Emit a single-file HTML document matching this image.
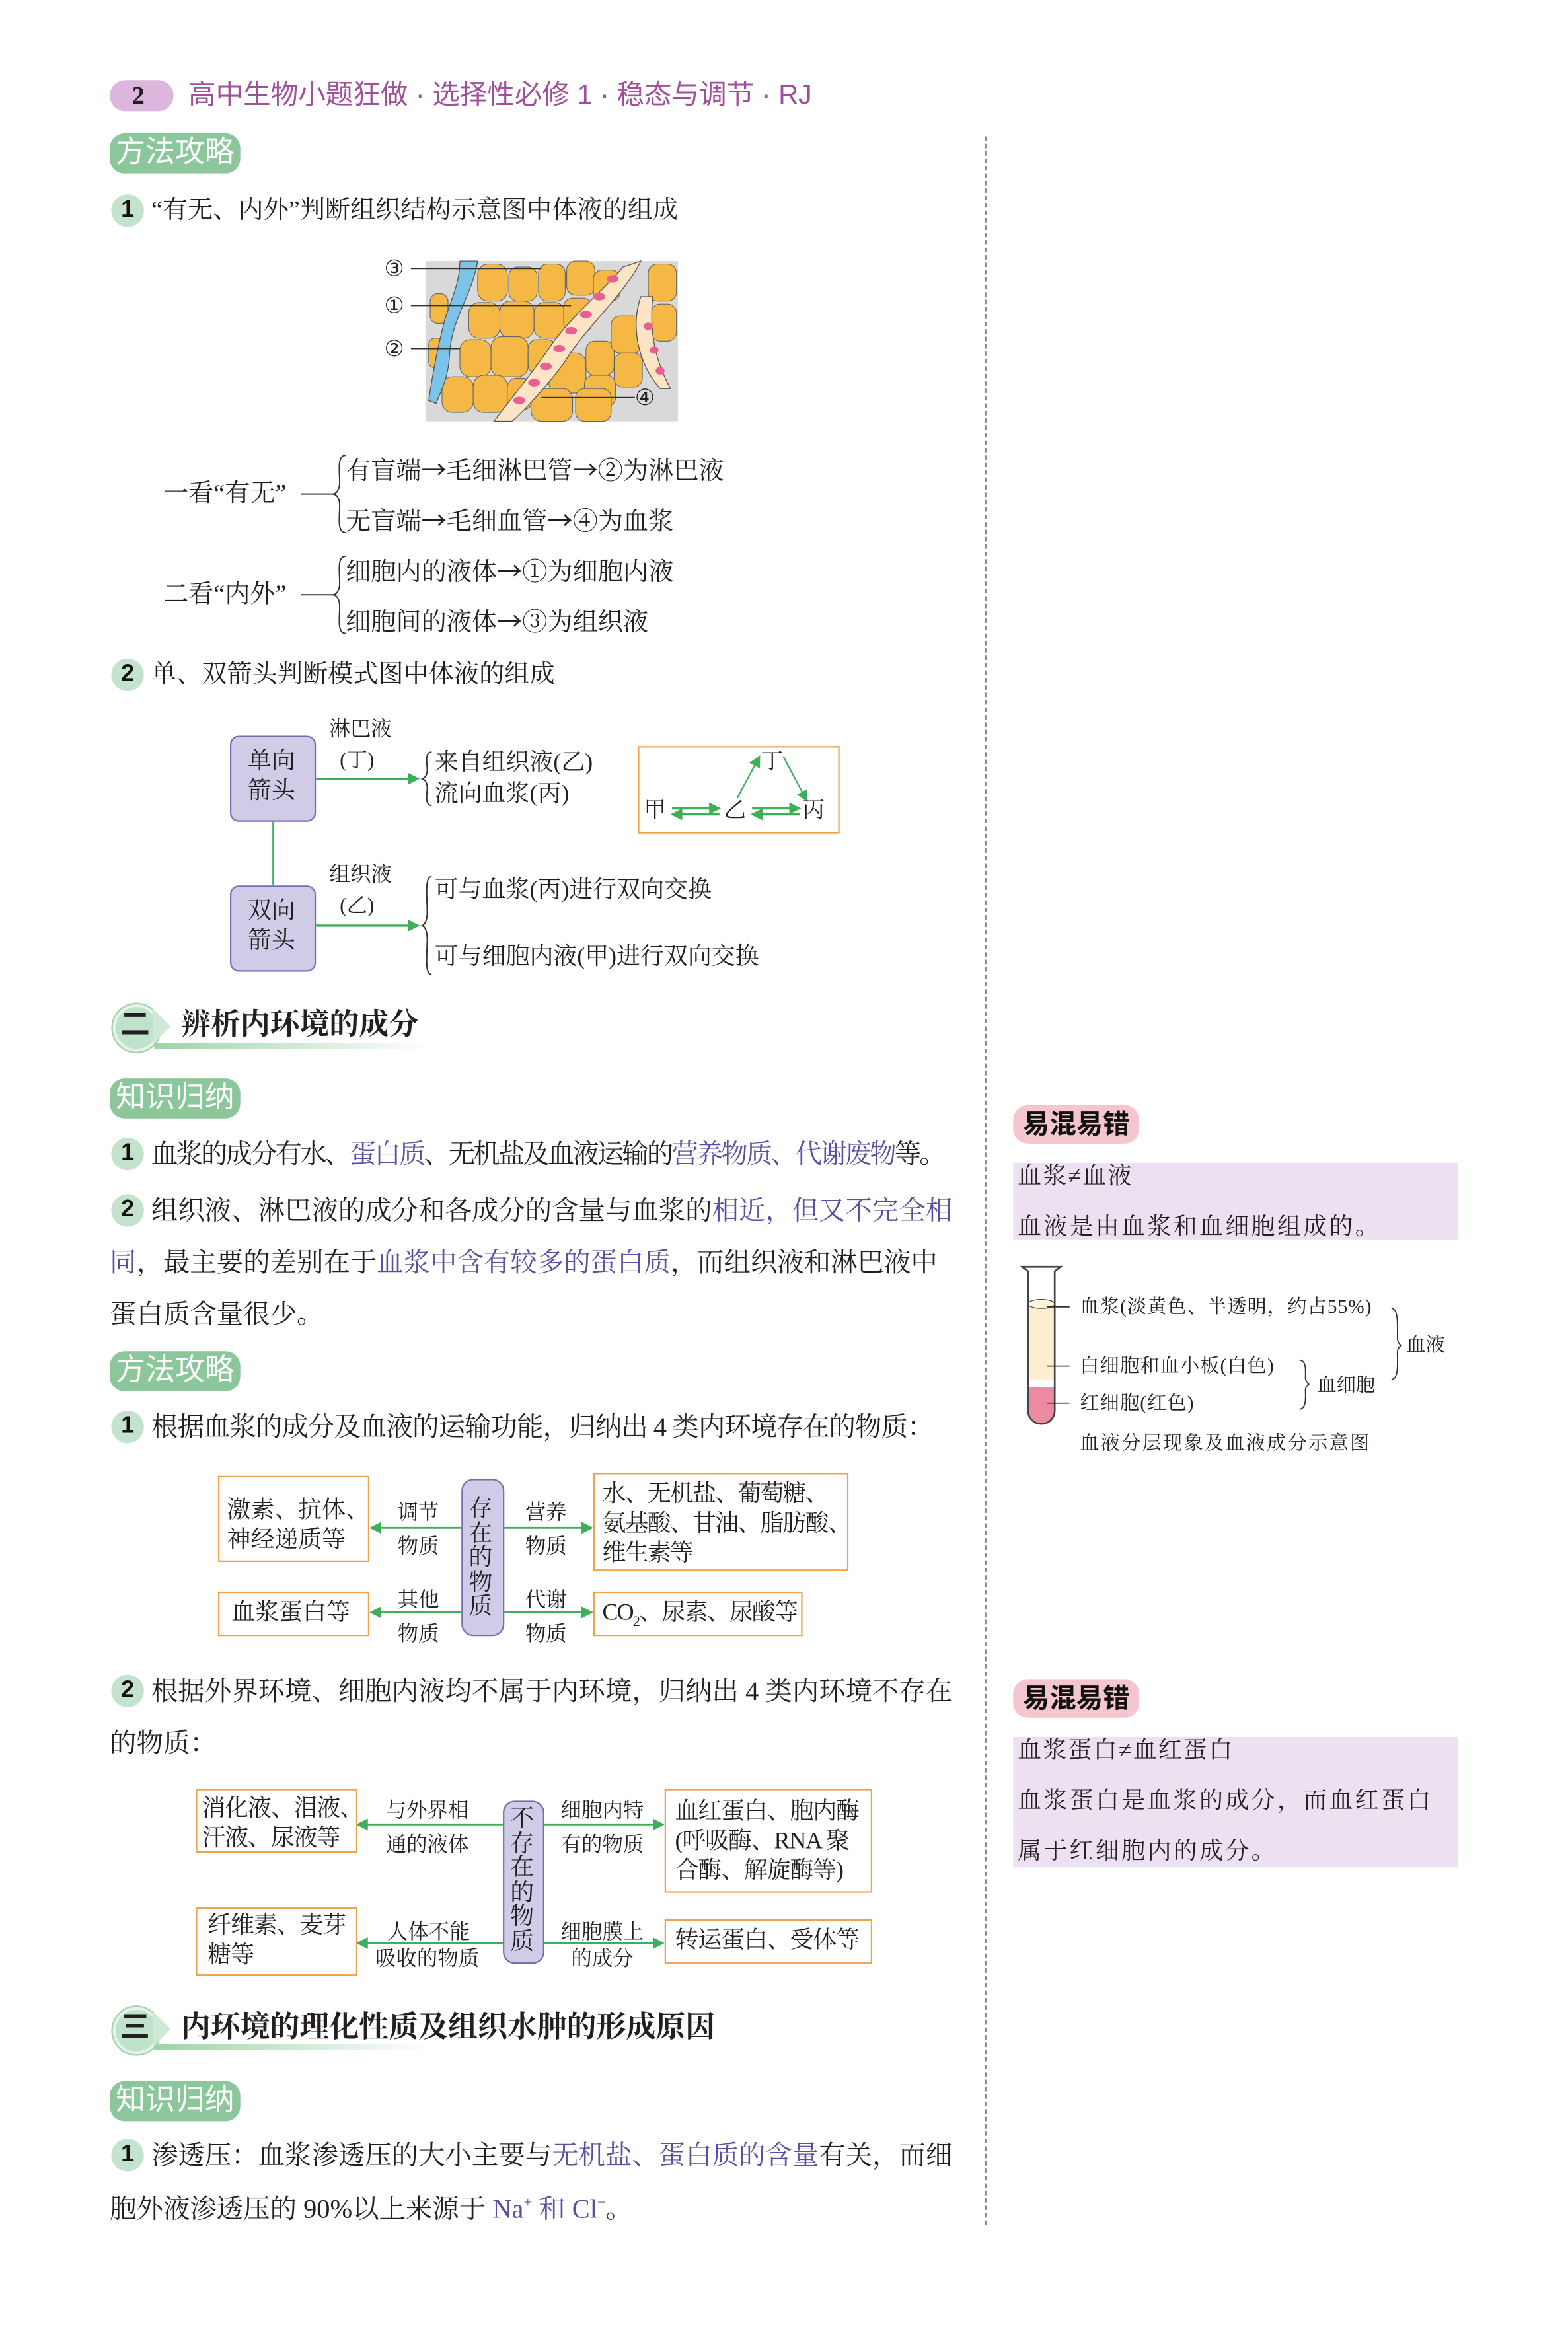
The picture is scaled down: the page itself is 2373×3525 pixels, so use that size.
<!DOCTYPE html>
<html><head><meta charset="utf-8">
<style>
html,body{margin:0;padding:0;background:#fff;}
body{width:2373px;height:3519px;overflow:hidden;position:relative;}
#w{position:absolute;left:0;top:0;width:1060px;height:1570px;transform:scale(2.245);transform-origin:0 0;}
.t{position:absolute;white-space:nowrap;line-height:1;font-family:"Liberation Serif","Noto Serif CJK SC",serif;color:#231f20;font-size:17px;}
.s{font-family:"Liberation Sans","Noto Sans CJK SC",sans-serif;}
.p{color:#5a4fa0;}
.ar{font-family:"Noto Sans CJK SC",sans-serif;}
.tag{position:absolute;background:#8cc79b;color:#fff;border-radius:10px;font-family:"Liberation Sans","Noto Sans CJK SC",sans-serif;font-size:20px;line-height:27px;height:27px;padding:0 4px;width:80px;text-align:center;}
.num{position:absolute;width:22px;height:22px;border-radius:50%;background:#c5e3cc;font-family:"Liberation Sans",sans-serif;font-weight:bold;font-size:16px;line-height:22px;text-align:center;color:#111;}
.box{position:absolute;border:1.5px solid #f0a24a;background:#fff;box-sizing:border-box;}
.pill{position:absolute;background:#d0cce8;border:1.5px solid #7a6aae;border-radius:6px;box-sizing:border-box;}
.yh{position:absolute;background:#f5c6cf;border-radius:10px;font-family:"Liberation Sans","Noto Sans CJK SC",sans-serif;font-weight:bold;font-size:18px;line-height:26px;height:26px;width:85px;text-align:center;color:#111;}
.lav{position:absolute;background:#ece0f1;}
.k{font-family:"Liberation Serif","Noto Serif CJK SC",serif;}
</style></head><body><div id="w">

<!-- header -->
<div style="position:absolute;left:74px;top:54px;width:43px;height:21px;border-radius:11px;background:#dcb6dc;"></div>
<div class="t" style="left:89px;top:56px;font-weight:bold;font-size:17px;">2</div>
<div class="t s" style="left:127px;top:55px;font-size:18.5px;color:#a0509a;">高中生物小题狂做 · 选择性必修 1 · 稳态与调节 · RJ</div>

<!-- divider -->
<div style="position:absolute;left:664px;top:92px;height:1408px;border-left:1px dashed #888;"></div>

<div class="tag" style="left:74px;top:90px;">方法攻略</div>
<div class="num" style="left:75px;top:131px;">1</div>
<div class="t" style="left:102px;top:133px;">“有无、内外”判断组织结构示意图中体液的组成</div>

<!-- tissue figure -->
<svg style="position:absolute;left:255px;top:170px" width="210" height="120" viewBox="255 170 210 120">
<rect x="287" y="176" width="170" height="108" fill="#d9d9d9"/>
<g fill="#f5b845" stroke="#666" stroke-width="0.5">
<rect x="322" y="178" width="20" height="25" rx="7"/><rect x="343" y="180" width="19" height="23" rx="6"/><rect x="363" y="178" width="18" height="25" rx="6"/><rect x="382" y="176" width="19" height="23" rx="6"/><rect x="400" y="182" width="18" height="21" rx="6"/>
<rect x="316" y="204" width="21" height="24" rx="7"/><rect x="337" y="203" width="23" height="25" rx="7"/><rect x="360" y="204" width="21" height="24" rx="7"/><rect x="380" y="201" width="19" height="23" rx="6"/>
<rect x="310" y="229" width="21" height="25" rx="7"/><rect x="331" y="227" width="25" height="27" rx="7"/><rect x="356" y="229" width="19" height="23" rx="6"/>
<rect x="298" y="254" width="21" height="24" rx="7"/><rect x="319" y="253" width="23" height="25" rx="7"/><rect x="342" y="255" width="17" height="21" rx="6"/>
<rect x="370" y="238" width="25" height="27" rx="7"/><rect x="395" y="230" width="19" height="23" rx="6"/><rect x="394" y="253" width="21" height="21" rx="6"/><rect x="358" y="262" width="28" height="22" rx="7"/>
<rect x="437" y="178" width="19" height="25" rx="6"/><rect x="439" y="205" width="17" height="25" rx="6"/><rect x="412" y="213" width="21" height="25" rx="6"/><rect x="414" y="238" width="19" height="23" rx="6"/>
<rect x="290" y="198" width="12" height="20" rx="5"/><rect x="289" y="228" width="10" height="20" rx="4"/><rect x="388" y="262" width="24" height="22" rx="6"/>
</g>
<path d="M310 176 L322 176 C318 200 304 215 303 240 C302 255 298 262 294 272 L289 270 C292 250 296 230 300 215 C305 200 310 190 310 176Z" fill="#7cc3ea" stroke="#555" stroke-width="0.6"/>
<path d="M420 180 L432 176 C420 200 395 220 380 245 C365 265 350 280 345 284 L333 284 C345 268 360 250 372 232 C388 210 408 195 420 180Z" fill="#fde4c4" stroke="#555" stroke-width="0.6"/>
<path d="M432 200 C425 220 430 245 445 262 L452 262 C440 240 438 220 440 200Z" fill="#fde4c4" stroke="#555" stroke-width="0.6"/>
<g fill="#ea5f93"><ellipse cx="413" cy="188" rx="4" ry="2.5"/><ellipse cx="404" cy="200" rx="4" ry="2.5"/><ellipse cx="395" cy="212" rx="4" ry="2.5"/><ellipse cx="385" cy="223" rx="4" ry="2.5"/><ellipse cx="377" cy="235" rx="4" ry="2.5"/><ellipse cx="368" cy="247" rx="4" ry="2.5"/><ellipse cx="360" cy="258" rx="4" ry="2.5"/><ellipse cx="350" cy="270" rx="4" ry="2.5"/><ellipse cx="437" cy="220" rx="3" ry="2.5"/><ellipse cx="441" cy="236" rx="3" ry="2.5"/><ellipse cx="445" cy="250" rx="3" ry="2.5"/></g>
<g stroke="#333" stroke-width="0.8"><line x1="277" y1="181" x2="365" y2="181"/><line x1="277" y1="206" x2="385" y2="206"/><line x1="277" y1="235" x2="310" y2="235"/><line x1="365" y1="268" x2="428" y2="268"/></g>
<g font-family="Liberation Serif,DejaVu Sans,serif" font-size="15" fill="#222"><text x="259" y="186">③</text><text x="259" y="211">①</text><text x="259" y="240">②</text><text x="428" y="273">④</text></g>
</svg>

<!-- 一看 二看 -->
<div class="t" style="left:110px;top:324px;">一看“有无”</div>
<div class="t" style="left:110px;top:392px;">二看“内外”</div>
<svg style="position:absolute;left:195px;top:300px" width="45" height="130" viewBox="195 300 45 130">
<g fill="none" stroke="#333" stroke-width="0.9">
<line x1="203" y1="333" x2="224" y2="333"/><path d="M233 307 C227 307 229 318 229 325 C229 330 227 333 224 333 C227 333 229 336 229 341 C229 348 227 359 233 359"/>
<line x1="203" y1="401" x2="224" y2="401"/><path d="M233 375 C227 375 229 386 229 393 C229 398 227 401 224 401 C227 401 229 404 229 409 C229 416 227 427 233 427"/>
</g></svg>
<div class="t" style="left:233px;top:307px;">有盲端<span class="ar">→</span>毛细淋巴管<span class="ar">→</span>②为淋巴液</div>
<div class="t" style="left:233px;top:341px;">无盲端<span class="ar">→</span>毛细血管<span class="ar">→</span>④为血浆</div>
<div class="t" style="left:233px;top:375px;">细胞内的液体<span class="ar">→</span>①为细胞内液</div>
<div class="t" style="left:233px;top:409px;">细胞间的液体<span class="ar">→</span>③为组织液</div>

<div class="num" style="left:75px;top:444px;">2</div>
<div class="t" style="left:102px;top:446px;">单、双箭头判断模式图中体液的组成</div>

<!-- arrow diagram -->
<div class="pill" style="left:155px;top:496px;width:58px;height:58px;"></div>
<div class="t" style="left:167px;top:504px;font-size:16px;line-height:20px;">单向<br>箭头</div>
<div class="pill" style="left:155px;top:597px;width:58px;height:58px;"></div>
<div class="t" style="left:167px;top:605px;font-size:16px;line-height:20px;">双向<br>箭头</div>
<div class="t" style="left:222px;top:486px;font-size:14px;">淋巴液</div>
<div class="t" style="left:229px;top:507px;font-size:14px;">(丁)</div>
<div class="t" style="left:222px;top:584px;font-size:14px;">组织液</div>
<div class="t" style="left:229px;top:605px;font-size:14px;">(乙)</div>
<div class="box" style="left:430px;top:503px;width:136px;height:59px;background:transparent;"></div>
<svg style="position:absolute;left:0;top:0" width="600" height="680" viewBox="0 0 600 680">
<defs><marker id="g" markerWidth="8" markerHeight="8" refX="7" refY="4" orient="auto" markerUnits="userSpaceOnUse"><path d="M0 0 L8 4 L0 8Z" fill="#3fae5a"/></marker></defs>
<g stroke="#3fae5a" stroke-width="1.5" fill="none">
<line x1="213" y1="525" x2="282" y2="525" marker-end="url(#g)"/>
<line x1="213" y1="624" x2="282" y2="624" marker-end="url(#g)"/>
<line x1="184" y1="554" x2="184" y2="597" stroke-width="0.8"/>
<line x1="453" y1="545" x2="485" y2="545" marker-end="url(#g)"/><line x1="485" y1="549" x2="453" y2="549" marker-end="url(#g)"/>
<line x1="507" y1="545" x2="539" y2="545" marker-end="url(#g)"/><line x1="539" y1="549" x2="507" y2="549" marker-end="url(#g)"/>
<line x1="497" y1="538" x2="512" y2="510" stroke-width="1" marker-end="url(#g)"/><line x1="528" y1="510" x2="544" y2="540" stroke-width="1" marker-end="url(#g)"/>
</g>
<g fill="none" stroke="#333" stroke-width="0.9">
<path d="M291 507 C286 507 288 515 288 519 C288 523 286 525 284 525 C286 525 288 527 288 531 C288 535 286 543 291 543"/>
<path d="M291 591 C286 591 288 605 288 615 C288 621 286 624 284 624 C286 624 288 627 288 633 C288 643 286 657 291 657"/>
</g></svg>
<div class="t" style="left:293px;top:507px;font-size:16px;">来自组织液(乙)</div>
<div class="t" style="left:293px;top:528px;font-size:16px;">流向血浆(丙)</div>
<div class="t" style="left:293px;top:593px;font-size:16px;">可与血浆(丙)进行双向交换</div>
<div class="t" style="left:293px;top:638px;font-size:16px;">可与细胞内液(甲)进行双向交换</div>
<div class="t" style="left:513px;top:507px;font-size:15px;">丁</div>
<div class="t" style="left:434px;top:540px;font-size:15px;">甲</div>
<div class="t" style="left:488px;top:540px;font-size:15px;">乙</div>
<div class="t" style="left:541px;top:540px;font-size:15px;">丙</div>

<!-- section 二 -->
<div style="position:absolute;left:104px;top:703px;width:186px;height:4px;background:linear-gradient(90deg,#9ed3a8,rgba(255,255,255,0));"></div>
<div style="position:absolute;left:76px;top:677px;width:28px;height:28px;border-radius:50%;background:#bfe3ca;border:2px solid #e5f2e8;box-shadow:0 0 0 1px #9ed3a8;"></div>
<div style="position:absolute;left:103px;top:680px;width:0;height:0;border-top:12px solid transparent;border-bottom:12px solid transparent;border-left:12px solid #cfe9d5;"></div>
<div class="t s" style="left:81px;top:681px;font-size:20px;font-weight:bold;">二</div>
<div class="t" style="left:122px;top:681px;font-size:20px;font-weight:bold;">辨析内环境的成分</div>

<div class="tag" style="left:74px;top:727px;">知识归纳</div>
<div class="num" style="left:75px;top:767px;">1</div>
<div class="t" style="left:102px;top:769px;font-size:18px;letter-spacing:-1.3px;">血浆的成分有水、<span class="p">蛋白质</span>、无机盐及血液运输的<span class="p">营养物质、代谢废物</span>等。</div>
<div class="num" style="left:75px;top:805px;">2</div>
<div class="t" style="left:102px;top:807px;font-size:18px;">组织液、淋巴液的成分和各成分的含量与血浆的<span class="p">相近，但又不完全相</span></div>
<div class="t" style="left:74px;top:842px;font-size:18px;"><span class="p">同</span>，最主要的差别在于<span class="p">血浆中含有较多的蛋白质</span>，而组织液和淋巴液中</div>
<div class="t" style="left:74px;top:877px;font-size:18px;">蛋白质含量很少。</div>

<div class="tag" style="left:74px;top:911px;">方法攻略</div>
<div class="num" style="left:75px;top:951px;">1</div>
<div class="t" style="left:102px;top:953px;font-size:18px;letter-spacing:-0.4px;">根据血浆的成分及血液的运输功能，归纳出 4 类内环境存在的物质：</div>

<!-- diagram 1 -->
<div class="box" style="left:147px;top:995px;width:102px;height:58px;"></div>
<div class="t" style="left:153px;top:1009px;font-size:16px;line-height:20px;">激素、抗体、<br>神经递质等</div>
<div class="box" style="left:147px;top:1073px;width:102px;height:30px;"></div>
<div class="t" style="left:156px;top:1080px;font-size:16px;">血浆蛋白等</div>
<div class="pill" style="left:311px;top:997px;width:29px;height:106px;border-radius:8px;"></div>
<div class="t" style="left:316px;top:1010px;font-size:16px;line-height:16.5px;white-space:normal;width:18px;">存在的物质</div>
<div class="box" style="left:400px;top:993px;width:172px;height:66px;"></div>
<div class="t" style="left:406px;top:998px;font-size:16px;line-height:20px;letter-spacing:-0.8px;">水、无机盐、葡萄糖、<br>氨基酸、甘油、脂肪酸、<br>维生素等</div>
<div class="box" style="left:400px;top:1073px;width:141px;height:30px;"></div>
<div class="t" style="left:406px;top:1080px;font-size:16px;letter-spacing:-0.8px;">CO<sub style="font-size:10px">2</sub>、尿素、尿酸等</div>
<div class="t" style="left:268px;top:1009px;font-size:14px;line-height:23px;">调节<br>物质</div>
<div class="t" style="left:354px;top:1009px;font-size:14px;line-height:23px;">营养<br>物质</div>
<div class="t" style="left:268px;top:1068px;font-size:14px;line-height:23px;">其他<br>物质</div>
<div class="t" style="left:354px;top:1068px;font-size:14px;line-height:23px;">代谢<br>物质</div>
<svg style="position:absolute;left:0;top:0" width="600" height="1340" viewBox="0 0 600 1340">
<defs><marker id="h" markerWidth="8" markerHeight="8" refX="7" refY="4" orient="auto" markerUnits="userSpaceOnUse"><path d="M0 0 L8 4 L0 8Z" fill="#3fae5a"/></marker></defs>
<g stroke="#3fae5a" stroke-width="1.3">
<line x1="311" y1="1030" x2="250" y2="1030" marker-end="url(#h)"/><line x1="340" y1="1030" x2="399" y2="1030" marker-end="url(#h)"/>
<line x1="311" y1="1087" x2="250" y2="1087" marker-end="url(#h)"/><line x1="340" y1="1087" x2="399" y2="1087" marker-end="url(#h)"/>
<line x1="339" y1="1230" x2="241" y2="1230" marker-end="url(#h)"/><line x1="366" y1="1230" x2="447" y2="1230" marker-end="url(#h)"/>
<line x1="339" y1="1310" x2="241" y2="1310" marker-end="url(#h)"/><line x1="366" y1="1310" x2="447" y2="1310" marker-end="url(#h)"/>
</g></svg>

<div class="num" style="left:75px;top:1129px;">2</div>
<div class="t" style="left:102px;top:1131px;font-size:18px;">根据外界环境、细胞内液均不属于内环境，归纳出 4 类内环境不存在</div>
<div class="t" style="left:74px;top:1166px;font-size:18px;">的物质：</div>

<!-- diagram 2 -->
<div class="box" style="left:132px;top:1206px;width:109px;height:43px;"></div>
<div class="t" style="left:136px;top:1210px;font-size:16px;line-height:20px;letter-spacing:-0.5px;">消化液、泪液、<br>汗液、尿液等</div>
<div class="box" style="left:132px;top:1286px;width:109px;height:46px;"></div>
<div class="t" style="left:140px;top:1289px;font-size:16px;line-height:20px;letter-spacing:-0.5px;">纤维素、麦芽<br>糖等</div>
<div class="pill" style="left:339px;top:1214px;width:28px;height:110px;border-radius:8px;"></div>
<div class="t" style="left:344px;top:1219px;font-size:16px;line-height:16.5px;white-space:normal;width:18px;">不存在的物质</div>
<div class="box" style="left:448px;top:1206px;width:140px;height:70px;"></div>
<div class="t" style="left:455px;top:1212px;font-size:16px;line-height:20px;letter-spacing:-0.5px;">血红蛋白、胞内酶<br>(呼吸酶、RNA 聚<br>合酶、解旋酶等)</div>
<div class="box" style="left:448px;top:1294px;width:140px;height:30px;"></div>
<div class="t" style="left:455px;top:1301px;font-size:16px;letter-spacing:-0.5px;">转运蛋白、受体等</div>
<div class="t" style="left:260px;top:1210px;font-size:14px;line-height:23px;">与外界相<br>通的液体</div>
<div class="t" style="left:378px;top:1210px;font-size:14px;line-height:23px;">细胞内特<br>有的物质</div>
<div class="t" style="left:261px;top:1292px;font-size:14px;line-height:23px;">人体不能</div>
<div class="t" style="left:253px;top:1315px;font-size:14px;">吸收的物质</div>
<div class="t" style="left:378px;top:1292px;font-size:14px;line-height:23px;">细胞膜上</div>
<div class="t" style="left:385px;top:1315px;font-size:14px;">的成分</div>

<!-- section 三 -->
<div style="position:absolute;left:104px;top:1378px;width:186px;height:4px;background:linear-gradient(90deg,#9ed3a8,rgba(255,255,255,0));"></div>
<div style="position:absolute;left:76px;top:1353px;width:28px;height:28px;border-radius:50%;background:#bfe3ca;border:2px solid #e5f2e8;box-shadow:0 0 0 1px #9ed3a8;"></div>
<div style="position:absolute;left:103px;top:1356px;width:0;height:0;border-top:12px solid transparent;border-bottom:12px solid transparent;border-left:12px solid #cfe9d5;"></div>
<div class="t s" style="left:81px;top:1357px;font-size:20px;font-weight:bold;">三</div>
<div class="t" style="left:122px;top:1357px;font-size:20px;font-weight:bold;">内环境的理化性质及组织水肿的形成原因</div>

<div class="tag" style="left:74px;top:1403px;">知识归纳</div>
<div class="num" style="left:75px;top:1442px;">1</div>
<div class="t" style="left:102px;top:1444px;font-size:18px;">渗透压：血浆渗透压的大小主要与<span class="p">无机盐、蛋白质的含量</span>有关，而细</div>
<div class="t" style="left:74px;top:1480px;font-size:18px;">胞外液渗透压的 90%以上来源于 <span class="p">Na<sup style="font-size:10px">+</sup> 和 Cl<sup style="font-size:10px">−</sup></span>。</div>

<!-- right column -->
<div class="yh" style="left:683px;top:745px;">易混易错</div>
<div class="lav" style="left:683px;top:784px;width:300px;height:52px;"></div>
<div class="t k" style="left:686px;top:786px;font-size:16px;letter-spacing:1px;">血浆≠血液</div>
<div class="t k" style="left:686px;top:820px;font-size:16px;letter-spacing:1.5px;">血液是由血浆和血细胞组成的。</div>
<svg style="position:absolute;left:688px;top:848px" width="35" height="115" viewBox="0 0 35 115">
<path d="M5 31 L5 103 A9 9 0 0 0 23 103 L23 31Z" fill="#fcefcf"/>
<path d="M5 87 L5 103 A9 9 0 0 0 23 103 L23 87Z" fill="#ec8aa2"/>
<rect x="5" y="82" width="18" height="5" fill="#fff"/>
<ellipse cx="14" cy="31" rx="9" ry="3" fill="#fdf5de" stroke="#444" stroke-width="0.6"/>
<path d="M1 6 L5 9 L5 103 A9 9 0 0 0 23 103 L23 9 L27 6 Z" fill="none" stroke="#444" stroke-width="1.2"/>
<g stroke="#333" stroke-width="0.8"><line x1="18" y1="33" x2="33" y2="33"/><line x1="18" y1="73" x2="33" y2="73"/><line x1="18" y1="98" x2="33" y2="98"/></g>
</svg>
<div class="t k" style="left:728px;top:874px;font-size:13px;letter-spacing:0.5px;">血浆(淡黄色、半透明，约占55%)</div>
<div class="t k" style="left:728px;top:914px;font-size:13px;letter-spacing:0.5px;">白细胞和血小板(白色)</div>
<div class="t k" style="left:728px;top:939px;font-size:13px;letter-spacing:0.5px;">红细胞(红色)</div>
<div class="t k" style="left:888px;top:927px;font-size:13px;">血细胞</div>
<div class="t k" style="left:948px;top:900px;font-size:13px;">血液</div>
<svg style="position:absolute;left:870px;top:875px" width="80" height="80" viewBox="870 875 80 80">
<g fill="none" stroke="#333" stroke-width="0.8">
<path d="M938 882 C943 882 942 895 942 902 C942 905 944 907 945 907 C944 907 942 909 942 912 C942 919 943 930 938 930"/>
<path d="M876 917 C881 917 880 925 880 929 C880 931 882 933 883 933 C882 933 880 935 880 937 C880 941 881 950 876 950"/>
</g></svg>
<div class="t k" style="left:728px;top:966px;font-size:13px;letter-spacing:1px;">血液分层现象及血液成分示意图</div>

<div class="yh" style="left:683px;top:1132px;">易混易错</div>
<div class="lav" style="left:683px;top:1171px;width:300px;height:88px;"></div>
<div class="t k" style="left:686px;top:1173px;font-size:16px;letter-spacing:1px;">血浆蛋白≠血红蛋白</div>
<div class="t k" style="left:686px;top:1207px;font-size:16px;letter-spacing:1.5px;">血浆蛋白是血浆的成分，而血红蛋白</div>
<div class="t k" style="left:686px;top:1241px;font-size:16px;letter-spacing:1.5px;">属于红细胞内的成分。</div>

</div></body></html>
